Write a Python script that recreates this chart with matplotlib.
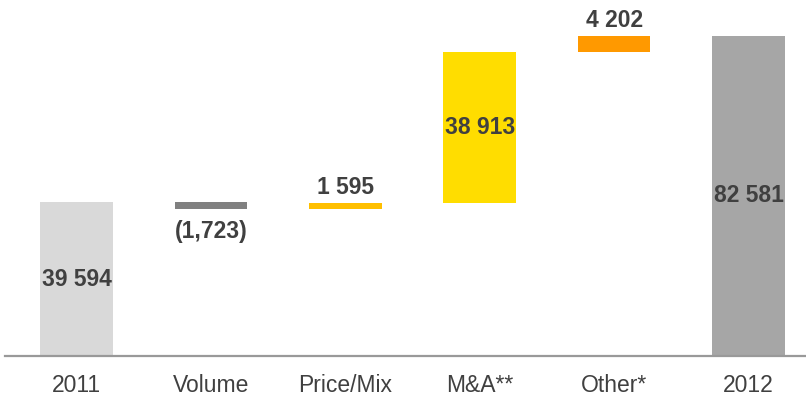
import numpy as np
import matplotlib.pyplot as plt

plt.rcParams['font.family'] = ['Liberation Sans', 'DejaVu Sans']

categories = ['2011', 'Volume', 'Price/Mix', 'M&A**', 'Other*', '2012']
start_value = 39594
changes = [-1723, 1595, 38913, 4202]
end_value = 82581
labels = ['39 594', '(1,723)', '1 595', '38 913', '4 202', '82 581']
colors = ['#D9D9D9', '#808080', '#FFBF00', '#FFDD00', '#FF9900', '#A6A6A6']

# floating bars: each change starts where the running total left off
running = np.cumsum([start_value] + changes)
bottoms = [0]
heights = [start_value]
for prev, ch in zip(running[:-1], changes):
    bottoms.append(prev + min(ch, 0))
    heights.append(abs(ch))
bottoms.append(0)
heights.append(end_value)

fig = plt.figure(figsize=(8.06, 3.97), dpi=100)
ax = fig.add_axes([5 / 806, 41 / 397, 801 / 806, 356 / 397])

x = np.arange(len(categories))
ax.bar(x, heights, bottom=bottoms, width=0.54, color=colors, zorder=2)

ax.set_xlim(-0.532, -0.532 + 801 / 134.4)
ax.set_ylim(0, 356 / 0.00388)

for spine in ['top', 'right', 'left']:
    ax.spines[spine].set_visible(False)
ax.spines['bottom'].set_color('#999999')
ax.spines['bottom'].set_linewidth(1.6)
ax.set_yticks([])
ax.set_xticks(x)
ax.set_xticklabels(categories, fontsize=16.5, color='#404040')
ax.tick_params(axis='x', length=0, pad=13)

for i, (b, h, lab) in enumerate(zip(bottoms, heights, labels)):
    if i in (0, 3, 5):
        ax.text(x[i], b + h / 2, lab, ha='center', va='center',
                fontsize=16.5, fontweight='bold', color='#404040', zorder=3)
    elif i == 1:
        ax.annotate(lab, (x[i], b), xytext=(0, -16.5), textcoords='offset points',
                    ha='center', va='center', fontsize=16.5, fontweight='bold',
                    color='#404040')
    else:
        ax.annotate(lab, (x[i], b + h), xytext=(0, 11), textcoords='offset points',
                    ha='center', va='center', fontsize=16.5, fontweight='bold',
                    color='#404040')

fig.savefig('out.png', dpi=100)
